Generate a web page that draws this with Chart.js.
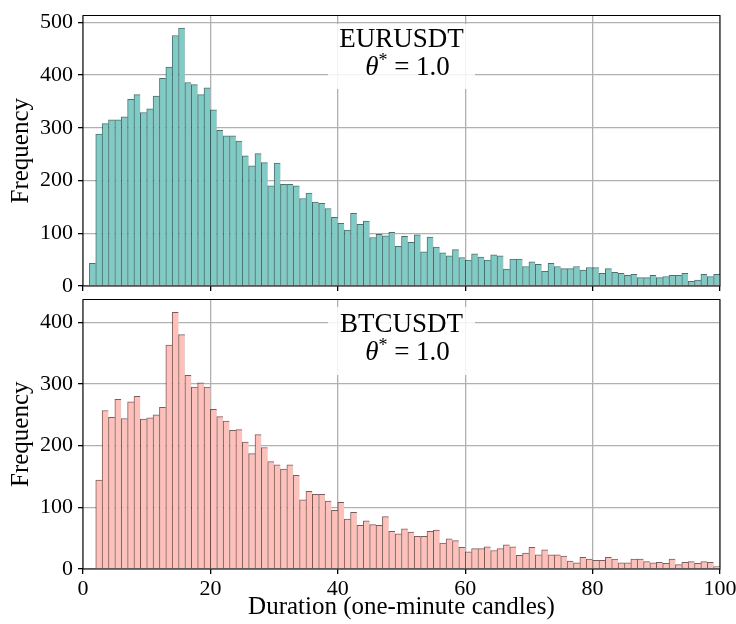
<!DOCTYPE html>
<html>
<head>
<meta charset="utf-8">
<script src="https://cdn.jsdelivr.net/npm/chart.js@4.4.1/dist/chart.umd.min.js"></script>
<style>
  html, body { margin: 0; padding: 0; background: #fff; }
  #wrap { position: relative; width: 736px; height: 624px; overflow: hidden; }
  .panel { position: absolute; left: 0; width: 736px; }
  .note {
    position: absolute; left: 328px; width: 147px;
    background: rgba(255, 255, 255, 0.85);
    font-family: "Liberation Serif", "Times New Roman", serif;
    font-size: 27px; line-height: 27px; color: #000; text-align: center;
  }
  .note div { position: absolute; left: 0; width: 147px; white-space: nowrap; }
  .note .th { padding-left: 12px; box-sizing: border-box; }
  .note sup { font-size: 18px; vertical-align: 9px; line-height: 0; }
</style>
</head>
<body>
<div id="wrap">
  <div class="panel" style="top:0;height:296px;"><canvas id="topChart"></canvas></div>
  <div class="panel" style="top:296px;height:328px;"><canvas id="bottomChart"></canvas></div>
  <div class="note" style="top:24px;height:65px;">
    <div style="top:1px;">EURUSDT</div>
    <div class="th" style="top:29px;"><i>θ</i><sup>*</sup> = 1.0</div>
  </div>
  <div class="note" style="top:307px;height:68px;">
    <div style="top:3px;">BTCUSDT</div>
    <div class="th" style="top:31px;"><i>θ</i><sup>*</sup> = 1.0</div>
  </div>
</div>
<script>
// histogram counts, one per one-minute bin [k, k+1), k = 0..99
var eurusdtCounts = [
  0, 43, 288, 308, 315, 315, 321, 354, 363, 329,
  336, 360, 394, 415, 475, 489, 386, 382, 363, 376,
  334, 295, 285, 285, 275, 247, 228, 251, 234, 190,
  233, 193, 193, 190, 166, 176, 159, 157, 147, 130,
  119, 106, 138, 117, 123, 92, 98, 95, 102, 75,
  94, 83, 97, 65, 93, 74, 63, 57, 69, 54,
  49, 61, 55, 49, 59, 57, 32, 51, 51, 37,
  46, 41, 28, 43, 37, 33, 33, 37, 30, 35,
  35, 24, 33, 26, 24, 20, 22, 16, 16, 20,
  16, 18, 20, 20, 24, 9, 11, 22, 18, 22
];
var btcusdtCounts = [
  0, 1, 144, 257, 246, 275, 244, 271, 280, 243,
  245, 250, 262, 363, 416, 380, 314, 295, 302, 295,
  259, 247, 240, 225, 226, 206, 187, 218, 197, 174,
  169, 162, 169, 152, 112, 126, 121, 121, 110, 95,
  108, 81, 92, 71, 78, 72, 71, 85, 61, 57,
  65, 60, 53, 53, 61, 63, 42, 49, 46, 35,
  28, 33, 33, 36, 30, 33, 39, 36, 22, 26,
  35, 23, 31, 23, 23, 21, 13, 10, 19, 16,
  14, 14, 19, 16, 10, 10, 16, 16, 12, 10,
  11, 9, 16, 7, 11, 12, 9, 12, 11, 4
];
var xTicks = [0, 20, 40, 60, 80, 100];
var topYTicks = [0, 100, 200, 300, 400, 500];
var bottomYTicks = [0, 100, 200, 300, 400];

var binStart = 0;
var binWidth = 1;

Chart.defaults.font.family = '"Liberation Serif", "Times New Roman", serif';
Chart.defaults.color = '#000';

// black box around the plot area, like the matplotlib spines
var framePlugin = {
  id: 'frame',
  afterDraw: function(chart) {
    var a = chart.chartArea;
    var ctx = chart.ctx;
    ctx.save();
    ctx.strokeStyle = '#000';
    ctx.lineWidth = 1;
    ctx.strokeRect(a.left, a.top, a.right - a.left, a.bottom - a.top);
    ctx.restore();
  }
};

function toPoints(counts) {
  return counts.map(function(c, i) {
    return { x: binStart + (i + 0.5) * binWidth, y: c };
  });
}

function keepTicks(list) {
  return function(scale) {
    scale.ticks = list.map(function(v) { return { value: v }; });
  };
}

// fixed axis size, and no extra room asked for the edge labels
function fixSize(prop, size) {
  return function(scale) {
    scale[prop] = size;
    scale.paddingTop = 0;
    scale.paddingBottom = 0;
    scale.paddingLeft = 0;
    scale.paddingRight = 0;
  };
}

function makeChart(id, counts, fill, yMax, yTicks, showX, padTop, xHeight) {
  var ctx = document.getElementById(id).getContext('2d');
  return new Chart(ctx, {
    type: 'bar',
    data: {
      datasets: [{
        data: toPoints(counts),
        backgroundColor: fill,
        borderColor: 'rgba(0, 0, 0, 0.6)',
        borderWidth: { top: 1, left: 1, right: 0, bottom: 0 },
        borderSkipped: false,
        barPercentage: 1,
        categoryPercentage: 1
      }]
    },
    options: {
      responsive: true,
      maintainAspectRatio: false,
      animation: false,
      layout: { padding: { top: padTop, right: 16, left: 0, bottom: 0 } },
      plugins: { legend: { display: false }, tooltip: { enabled: false } },
      scales: {
        x: {
          type: 'linear',
          min: 0,
          max: 100,
          offset: false,
          z: 1,
          afterBuildTicks: keepTicks(xTicks),
          afterFit: fixSize('height', xHeight),
          grid: { color: '#b0b0b0', lineWidth: 1.3, tickColor: '#000', tickLength: 5, offset: false },
          border: { display: false },
          ticks: { display: showX, font: { size: 22 }, padding: 2, maxRotation: 0, autoSkip: false },
          title: {
            display: showX,
            text: 'Duration (one-minute candles)',
            font: { size: 25 },
            padding: { top: 0, bottom: 2 }
          }
        },
        y: {
          min: 0,
          max: yMax,
          z: 1,
          afterBuildTicks: keepTicks(yTicks),
          afterFit: fixSize('width', 83),
          grid: { color: '#b0b0b0', lineWidth: 1.3, tickColor: '#000', tickLength: 5 },
          border: { display: false },
          ticks: { font: { size: 22 }, padding: 5 },
          title: {
            display: true,
            text: 'Frequency',
            font: { size: 25 },
            padding: { top: 6, bottom: 0 }
          }
        }
      }
    },
    plugins: [framePlugin]
  });
}

makeChart('topChart', eurusdtCounts, '#7fcbc6', 513, topYTicks, false, 15.5, 10);
makeChart('bottomChart', btcusdtCounts, '#ffc0ba', 437, bottomYTicks, true, 3.5, 55);
</script>
</body>
</html>
